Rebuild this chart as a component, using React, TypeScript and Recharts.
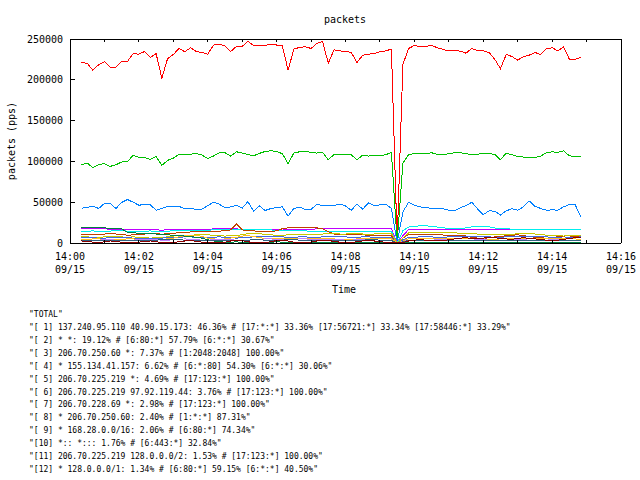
import { Line, LineChart, XAxis, YAxis } from 'recharts'

// samples every 10 s, first one at 14:00:20
const FIRST_SAMPLE = 20
const SAMPLE_STEP = 10

const total = [
  221100, 220300, 211600, 218600, 222300, 215300, 215300, 222300, 222300, 232200, 231400,
  234700, 227300, 232200, 202100, 226000, 231000, 238400, 234300, 239300, 234700, 233500,
  231400, 242600, 243400, 241700, 234700, 240900, 240900, 247100, 242100, 242100, 242100,
  243800, 242600, 241700, 211600, 237600, 239700, 240500, 238400, 244600, 247100, 220300,
  236800, 235500, 234700, 233500, 221100, 230200, 231400, 232200, 234300, 235500, 237600,
  2000, 219000, 238400, 242100, 240500, 240900, 242100, 239300, 237200, 235500, 235900,
  235100, 232600, 238400, 235900, 235500, 233500, 225200, 213600, 231000, 228500, 224000,
  228500, 230200, 233500, 231000, 238000, 239300, 235500, 240500, 225200, 225200, 227300,
]

const flow1 = [
  95900, 98000, 92300, 96300, 97200, 93900, 95900, 99200, 99600, 107700, 104900,
  104900, 102400, 106100, 95100, 101200, 104100, 108500, 108100, 108900, 109800, 107700,
  103700, 106500, 110600, 110600, 106500, 111800, 110200, 108500, 106900, 109800, 112200,
  113000, 112200, 109400, 97200, 110200, 111800, 111800, 111400, 110200, 111000, 102000,
  108500, 108100, 108100, 108100, 102000, 107700, 106500, 107300, 107300, 108100, 111000,
  800, 98000, 108500, 109400, 109400, 109400, 110600, 108500, 108500, 109400, 110600,
  110600, 109400, 108500, 108900, 109400, 109800, 108500, 102000, 110200, 108100, 106100,
  105300, 105300, 104900, 106500, 110600, 111800, 111000, 113000, 106900, 105700, 106100,
]

const flow2 = [
  42700, 43500, 45100, 42300, 48400, 48400, 42300, 49600, 53300, 50000, 46300,
  47200, 46700, 40200, 42300, 44700, 44700, 44700, 42300, 42700, 41100, 41500,
  45900, 50000, 47600, 43100, 44300, 46300, 42700, 50800, 39000, 45500, 39800,
  42300, 43500, 44300, 32900, 42300, 43900, 41100, 41100, 47600, 45900, 45900,
  45900, 47600, 45500, 40200, 47600, 41500, 49200, 45900, 46700, 47600, 42300,
  400, 38000, 50000, 46300, 44300, 43100, 42700, 42300, 41900, 40200, 39400,
  43100, 45900, 50000, 41900, 34600, 39400, 39000, 34100, 39400, 41900, 40200,
  44300, 51600, 45100, 42300, 40200, 40600, 40200, 44300, 47200, 47200, 32100,
]

const flow3 = [
  17300, 17300, 17300, 17300, 17300, 17000, 17000, 17000, 17000, 17000, 17000,
  17000, 16800, 16500, 15500, 16500, 17000, 17000, 17000, 17000, 17000, 17000,
  17000, 17200, 17200, 17200, 17200, 17200, 17000, 17000, 17000, 17000, 17000,
  17000, 16800, 15800, 16800, 17000, 17000, 17000, 17000, 17200, 17200, 17200,
  17200, 17200, 17200, 17200, 17200, 17200, 17200, 17200, 17200, 17200, 17200,
  0, 9000, 16500, 17000, 17000, 17000, 17000, 17000, 17000, 17000, 17000,
  17000, 17000, 17000, 17000, 17000, 17000, 17000, 16000, 17000, 17000, 17000,
  17000, 17000, 17000, 17000, 17000, 17000, 17000, 17000, 17000, 17000, 17000,
]

const flow4 = [
  14500, 14500, 14800, 14000, 14200, 14500, 15500, 15000, 14600, 14200, 14000,
  14200, 14800, 13500, 14000, 14500, 15000, 14800, 15500, 15800, 15000, 15200,
  15800, 16000, 16200, 16000, 16200, 16800, 16500, 16000, 16200, 16500, 16800,
  16000, 15500, 15200, 15000, 15200, 15500, 14800, 14500, 14000, 13800, 14000,
  14000, 13800, 14000, 14000, 14200, 14000, 13800, 14000, 14000, 14000, 14200,
  0, 15000, 19500, 20500, 21000, 21000, 20500, 19500, 18500, 18000, 17500,
  17500, 18500, 19800, 20000, 20200, 19800, 18500, 17500, 17500, 17000, 17000,
  16500, 16500, 16500, 16500, 16500, 16500, 16500, 16500, 16500, 16000, 16000,
]

const flow5 = [
  10500, 10500, 10200, 10800, 11000, 11500, 11000, 10500, 9500, 10000, 10500,
  11000, 11200, 11500, 10800, 11500, 12000, 12500, 13000, 13500, 14500, 14000,
  14000, 13500, 14500, 15000, 16000, 23500, 16000, 15500, 15000, 14000, 13500,
  14000, 15000, 17500, 18500, 19000, 19000, 18800, 19000, 18500, 17500, 14000,
  11000, 10500, 10000, 10000, 10000, 10000, 9500, 9500, 9500, 9000, 9000,
  0, 6000, 10500, 11000, 11000, 11000, 10000, 10000, 9800, 9800, 9500,
  9500, 8500, 7000, 6000, 5500, 6500, 7500, 8000, 9000, 9500, 10000,
  9000, 8000, 7000, 6500, 5800, 7000, 7500, 8500, 8800, 7500, 8000,
]

const flow6 = [
  7500, 7500, 7000, 7000, 7500, 8000, 8000, 7500, 7000, 7500, 7000,
  6500, 6000, 6500, 7000, 7500, 8500, 9000, 9500, 9500, 10000, 10500,
  10000, 9500, 9000, 8500, 9000, 9500, 10000, 11500, 12000, 11500, 10500,
  10000, 9500, 9500, 10000, 10500, 11000, 11000, 10500, 10500, 11000, 11500,
  11500, 11000, 11000, 11500, 11500, 11000, 11000, 11000, 11500, 11500, 11500,
  0, 6000, 12500, 13000, 13000, 13000, 12500, 12500, 12500, 12500, 12500,
  12000, 12000, 11500, 11000, 10500, 10000, 10000, 10000, 10500, 10500, 11500,
  12000, 11500, 11000, 10500, 9500, 9500, 9000, 8500, 9000, 9500, 9000,
]

const flow7 = [
  6500, 6500, 6500, 6000, 6000, 6500, 7000, 7000, 6500, 6000, 6000,
  6000, 6000, 5500, 6000, 6500, 7000, 7000, 7500, 7500, 7000, 7000,
  7000, 7000, 7500, 7000, 6500, 6000, 6500, 7000, 7500, 8000, 8500,
  8500, 8000, 7500, 7000, 7000, 7500, 7500, 7000, 7000, 7500, 8000,
  8000, 8000, 7500, 7000, 7000, 7500, 7500, 7000, 7000, 7000, 7000,
  0, 4000, 7000, 7000, 7500, 7500, 7500, 7000, 7000, 7500, 7500,
  8000, 8500, 8000, 7500, 7500, 7500, 7000, 7000, 7500, 8000, 8000,
  8500, 8500, 8000, 8000, 7500, 7000, 6500, 6000, 6500, 7000, 7500,
]

const flow8 = [
  4500, 4500, 5000, 5000, 4500, 4000, 4000, 4500, 5000, 5000, 4500,
  4500, 4000, 4000, 4500, 5000, 6000, 7500, 9000, 9500, 9500, 8000,
  6000, 5000, 4500, 5000, 6000, 7000, 8500, 9000, 8000, 6500, 5500,
  5000, 5500, 6000, 5500, 5000, 5000, 5500, 5500, 5000, 5000, 5000,
  5000, 4500, 4500, 4500, 5000, 5000, 5500, 5500, 5000, 5000, 5000,
  0, 2500, 5000, 5500, 5500, 5000, 5000, 5000, 5500, 6000, 6000,
  6000, 5500, 5000, 5000, 5000, 4500, 4500, 5000, 5500, 6000, 6000,
  5500, 5000, 5000, 5500, 6000, 6000, 5500, 5000, 5000, 5000, 4500,
]

const flow9 = [
  18500, 18500, 18500, 18500, 18500, 18000, 17500, 17500, 13000, 12500, 12000,
  12000, 11500, 11000, 10500, 10000, 9500, 9000, 8500, 8000, 7000, 6000,
  4000, 2500, 1500, 1000, 800, 1500, 500, 300, 500, 1000, 500,
  800, 1500, 1000, 500, 300, 500, 1000, 500, 300, 500, 1000,
  500, 300, 500, 800, 500, 300, 500, 1000, 800, 500, 500,
  0, 300, 800, 500, 300, 800, 1200, 600, 300, 500, 800,
  300, 500, 1000, 500, 300, 800, 500, 300, 500, 1000, 500,
  300, 800, 500, 300, 600, 1000, 500, 300, 800, 500, 300,
]

const flow10 = [
  3500, 3500, 3000, 3500, 4000, 4000, 3500, 3500, 3000, 3500, 4000,
  4500, 4500, 4000, 3500, 3500, 4000, 4500, 5000, 4500, 4000, 3500,
  3500, 4000, 4500, 4500, 4000, 3500, 3000, 3500, 4000, 4500, 5000,
  5000, 4500, 4000, 4000, 4500, 5000, 5000, 4500, 4000, 4000, 4500,
  4500, 4000, 3500, 3500, 4000, 4500, 4500, 4000, 3500, 3500, 3500,
  0, 2000, 3500, 3500, 3000, 3000, 3500, 4000, 4000, 3500, 3000,
  3000, 3000, 3500, 4000, 4000, 3500, 3000, 3000, 3500, 3500, 4000,
  4000, 3500, 3000, 3000, 3500, 4000, 4000, 3500, 3000, 3500, 3500,
]

const flow11 = [
  3000, 3000, 2800, 2500, 2500, 3000, 3500, 3500, 3000, 2500, 2500,
  3000, 3000, 3500, 4000, 4500, 4500, 4000, 3500, 3500, 3000, 3000,
  3000, 3500, 3500, 3000, 2500, 2500, 3000, 3500, 4000, 4000, 3500,
  3000, 3000, 3500, 4000, 4000, 3500, 3000, 3000, 3500, 3500, 3000,
  3000, 3500, 3500, 3000, 3000, 3500, 4000, 4000, 3500, 3000, 3000,
  0, 1500, 3000, 3000, 3500, 3500, 3000, 3000, 3000, 3500, 3500,
  3000, 3000, 3500, 3500, 3000, 2500, 2500, 3000, 3000, 3500, 3500,
  3000, 3000, 2500, 2500, 3000, 3500, 3500, 3000, 3000, 2500, 2500,
]

const flow12 = [
  2500, 2000, 1000, 500, 1500, 2500, 2000, 1000, 500, 500, 1000,
  2000, 2500, 1500, 500, 300, 500, 1500, 2500, 3000, 2000, 1000,
  500, 300, 500, 1000, 2500, 3500, 3000, 1500, 500, 300, 500,
  1500, 3000, 3500, 2500, 1000, 500, 500, 1000, 2500, 3500, 3000,
  2000, 1000, 500, 500, 1500, 2500, 3000, 2500, 1500, 1000, 500,
  0, 500, 2500, 3500, 4000, 3500, 3000, 2500, 3000, 4000, 5000,
  6000, 6500, 5500, 5000, 6000, 7000, 6500, 5500, 5000, 4500, 5500,
  6500, 5500, 5000, 4500, 3500, 3000, 3500, 4500, 5500, 6500, 7000,
]

const SERIES = [
  { key: 'total', color: '#ff0000', values: total, label: '"TOTAL"' },
  { key: 'f1', color: '#00c000', values: flow1, label: '"[ 1] 137.240.95.110 40.90.15.173: 46.36% # [17:*:*] 33.36% [17:56721:*] 33.34% [17:58446:*] 33.29%"' },
  { key: 'f2', color: '#0080ff', values: flow2, label: '"[ 2] * *: 19.12% # [6:80:*] 57.79% [6:*:*] 30.67%"' },
  { key: 'f3', color: '#c000ff', values: flow3, label: '"[ 3] 206.70.250.60 *: 7.37% # [1:2048:2048] 100.00%"' },
  { key: 'f4', color: '#00eeee', values: flow4, label: '"[ 4] * 155.134.41.157: 6.62% # [6:*:80] 54.30% [6:*:*] 30.06%"' },
  { key: 'f5', color: '#c04000', values: flow5, label: '"[ 5] 206.70.225.219 *: 4.69% # [17:123:*] 100.00%"' },
  { key: 'f6', color: '#c8c800', values: flow6, label: '"[ 6] 206.70.225.219 97.92.119.44: 3.76% # [17:123:*] 100.00%"' },
  { key: 'f7', color: '#4169e1', values: flow7, label: '"[ 7] 206.70.228.69 *: 2.98% # [17:123:*] 100.00%"' },
  { key: 'f8', color: '#ffc020', values: flow8, label: '"[ 8] * 206.70.250.60: 2.40% # [1:*:*] 87.31%"' },
  { key: 'f9', color: '#008040', values: flow9, label: '"[ 9] * 168.28.0.0/16: 2.06% # [6:80:*] 74.34%"' },
  { key: 'f10', color: '#c080ff', values: flow10, label: '"[10] *:: *::: 1.76% # [6:443:*] 32.84%"' },
  { key: 'f11', color: '#306080', values: flow11, label: '"[11] 206.70.225.219 128.0.0.0/2: 1.53% # [17:123:*] 100.00%"' },
  { key: 'f12', color: '#8b0000', values: flow12, label: '"[12] * 128.0.0.0/1: 1.34% # [6:80:*] 59.15% [6:*:*] 40.50%"' },
]

// x ticks every minute (seconds after 14:00), labels every 2 minutes
const X_TICKS = [0, 60, 120, 180, 240, 300, 360, 420, 480, 540, 600, 660, 720, 780, 840, 900, 960]
const Y_TICKS = [0, 50000, 100000, 150000, 200000, 250000]
const DATE_LABEL = '09/15'

const rows = total.map((_, i) => {
  const row: Record<string, number> = { t: FIRST_SAMPLE + i * SAMPLE_STEP }
  for (const s of SERIES) row[s.key] = s.values[i]
  return row
})

const FONT = '"DejaVu Sans Mono", "Liberation Mono", monospace'

function clock(sec: number) {
  const m = Math.round(sec / 60)
  const hh = 14 + Math.floor(m / 60)
  const mm = m % 60
  return `${hh}:${mm < 10 ? '0' : ''}${mm}`
}

function BottomTick(p: any) {
  const x = p.x ?? 0
  const y = p.y ?? 0
  const v = p.payload?.value ?? 0
  const labelled = Math.round(v / 60) % 2 === 0
  return (
    <g>
      <line x1={x} y1={y} x2={x} y2={y - 3} stroke="#000" shapeRendering="crispEdges" />
      {labelled && (
        <text x={x} y={y + 17} textAnchor="middle" fontFamily={FONT} fontSize={10} fill="#000">
          <tspan x={x}>{clock(v)}</tspan>
          <tspan x={x} dy={12.5}>{DATE_LABEL}</tspan>
        </text>
      )}
    </g>
  )
}

function TopTick(p: any) {
  const x = p.x ?? 0
  const y = p.y ?? 0
  return <line x1={x} y1={y} x2={x} y2={y + 3} stroke="#000" shapeRendering="crispEdges" />
}

function LeftTick(p: any) {
  const x = p.x ?? 0
  const y = p.y ?? 0
  const v = p.payload?.value ?? 0
  return (
    <g>
      <line x1={x} y1={y} x2={x + 5} y2={y} stroke="#000" shapeRendering="crispEdges" />
      <text x={x - 7} y={y + 3.5} textAnchor="end" fontFamily={FONT} fontSize={10} fill="#000">
        {v}
      </text>
    </g>
  )
}

function RightTick(p: any) {
  const x = p.x ?? 0
  const y = p.y ?? 0
  return <line x1={x} y1={y} x2={x - 5} y2={y} stroke="#000" shapeRendering="crispEdges" />
}

const frame = { stroke: '#000', strokeWidth: 1, shapeRendering: 'crispEdges' } as any

export default function App() {
  return (
    <div style={{ position: 'absolute', left: 0, top: 0, width: 640, height: 480, background: '#fff' }}>
      <LineChart
        width={640}
        height={480}
        data={rows}
        margin={{ top: 38, right: 18, bottom: 236, left: 69 }}
      >
        <XAxis
          dataKey="t"
          type="number"
          domain={[0, 960]}
          ticks={X_TICKS}
          interval={0}
          height={1}
          tickSize={0}
          tickMargin={0}
          tickLine={false}
          axisLine={frame}
          tick={BottomTick}
        />
        <XAxis
          xAxisId="top"
          orientation="top"
          dataKey="t"
          type="number"
          domain={[0, 960]}
          ticks={X_TICKS}
          interval={0}
          height={1}
          tickSize={0}
          tickMargin={0}
          tickLine={false}
          axisLine={frame}
          tick={TopTick}
        />
        <YAxis
          type="number"
          domain={[0, 250000]}
          ticks={Y_TICKS}
          interval={0}
          width={1}
          tickSize={0}
          tickMargin={0}
          tickLine={false}
          axisLine={frame}
          tick={LeftTick}
        />
        <YAxis
          yAxisId="right"
          orientation="right"
          type="number"
          domain={[0, 250000]}
          ticks={Y_TICKS}
          interval={0}
          width={1}
          tickSize={0}
          tickMargin={0}
          tickLine={false}
          axisLine={frame}
          tick={RightTick}
        />
        {SERIES.map((s) => (
          <Line
            key={s.key}
            dataKey={s.key}
            type="linear"
            stroke={s.color}
            strokeWidth={1}
            dot={false}
            activeDot={false}
            shapeRendering="crispEdges"
            isAnimationActive={false}
          />
        ))}
      </LineChart>
      <svg
        width={640}
        height={480}
        style={{ position: 'absolute', left: 0, top: 0, pointerEvents: 'none' }}
      >
        <text x={345} y={23} textAnchor="middle" fontFamily={FONT} fontSize={10} fill="#000">
          packets
        </text>
        <text x={344} y={293} textAnchor="middle" fontFamily={FONT} fontSize={10} fill="#000">
          Time
        </text>
        <text
          x={15}
          y={141}
          transform="rotate(-90 15 141)"
          textAnchor="middle"
          fontFamily={FONT}
          fontSize={10}
          fill="#000"
        >
          packets (pps)
        </text>
        {SERIES.map((s, i) => (
          <text
            key={s.key}
            x={29}
            y={317 + i * 12.92}
            fontFamily={FONT}
            fontSize={8}
            fill="#000"
            style={{ whiteSpace: 'pre' }}
          >
            {s.label}
          </text>
        ))}
      </svg>
    </div>
  )
}
